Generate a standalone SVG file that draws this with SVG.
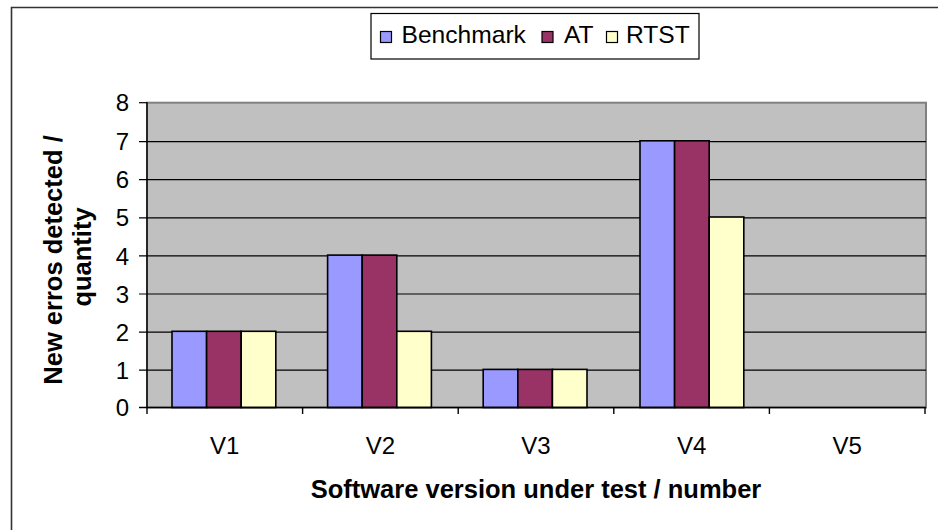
<svg xmlns="http://www.w3.org/2000/svg" width="938" height="530" viewBox="0 0 938 530">
<style>
text{font-family:"Liberation Sans",Arial,sans-serif;fill:#000}
.t{font-size:24px}
.lg{font-size:24.6px}
.b{font-size:25.5px;font-weight:bold}
.grid{stroke:#000;stroke-width:1.2}
.bar{stroke:#000;stroke-width:1.6}
.bm{fill:#9999FF}
.at{fill:#993366}
.rt{fill:#FFFFCC}
.sw{stroke:#000;stroke-width:1.2}
</style>
<rect x="0" y="0" width="938" height="530" fill="#fff"/>
<path d="M11.5,530 V7.5 H938" fill="none" stroke="#333" stroke-width="1.6"/>
<g id="plot-area">
<rect x="147" y="102.7" width="779" height="304.8" fill="#C0C0C0" stroke="#808080" stroke-width="2"/>
<g id="gridlines">
<line class="grid" x1="139" y1="141.6" x2="926" y2="141.6"/>
<line class="grid" x1="139" y1="179.7" x2="926" y2="179.7"/>
<line class="grid" x1="139" y1="217.8" x2="926" y2="217.8"/>
<line class="grid" x1="139" y1="255.9" x2="926" y2="255.9"/>
<line class="grid" x1="139" y1="294" x2="926" y2="294"/>
<line class="grid" x1="139" y1="332.1" x2="926" y2="332.1"/>
<line class="grid" x1="139" y1="370.2" x2="926" y2="370.2"/>
<line class="grid" x1="139" y1="102.7" x2="147" y2="102.7"/>
</g>
</g>
<g id="bars">
<g id="V1-bars">
<rect class="bar bm" x="172" y="331.3" width="34.6" height="76.2"/>
<rect class="bar at" x="206.6" y="331.3" width="34.6" height="76.2"/>
<rect class="bar rt" x="241.2" y="331.3" width="34.6" height="76.2"/>
</g>
<g id="V2-bars">
<rect class="bar bm" x="327.6" y="255.1" width="34.6" height="152.4"/>
<rect class="bar at" x="362.2" y="255.1" width="34.6" height="152.4"/>
<rect class="bar rt" x="396.8" y="331.3" width="34.6" height="76.2"/>
</g>
<g id="V3-bars">
<rect class="bar bm" x="483.2" y="369.4" width="34.6" height="38.1"/>
<rect class="bar at" x="517.8" y="369.4" width="34.6" height="38.1"/>
<rect class="bar rt" x="552.4" y="369.4" width="34.6" height="38.1"/>
</g>
<g id="V4-bars">
<rect class="bar bm" x="640" y="140.8" width="34.6" height="266.7"/>
<rect class="bar at" x="674.6" y="140.8" width="34.6" height="266.7"/>
<rect class="bar rt" x="709.2" y="217" width="34.6" height="190.5"/>
</g>
</g>
<g id="axes" stroke="#000" stroke-width="1.4">
<line x1="147" y1="102" x2="147" y2="414"/>
<line x1="139" y1="407.5" x2="926" y2="407.5"/>
<line x1="302.6" y1="407.5" x2="302.6" y2="414"/>
<line x1="458.2" y1="407.5" x2="458.2" y2="414"/>
<line x1="613.8" y1="407.5" x2="613.8" y2="414"/>
<line x1="769.4" y1="407.5" x2="769.4" y2="414"/>
<line x1="925" y1="407.5" x2="925" y2="414"/>
</g>
<g id="y-labels" text-anchor="end">
<text class="t" x="129" y="111.3">8</text>
<text class="t" x="129" y="150.2">7</text>
<text class="t" x="129" y="188.3">6</text>
<text class="t" x="129" y="226.4">5</text>
<text class="t" x="129" y="264.5">4</text>
<text class="t" x="129" y="302.6">3</text>
<text class="t" x="129" y="340.7">2</text>
<text class="t" x="129" y="378.8">1</text>
<text class="t" x="129" y="416.1">0</text>
</g>
<g id="x-labels" text-anchor="middle">
<text class="t" x="224.8" y="453.5">V1</text>
<text class="t" x="380.4" y="453.5">V2</text>
<text class="t" x="536" y="453.5">V3</text>
<text class="t" x="691.6" y="453.5">V4</text>
<text class="t" x="847.2" y="453.5">V5</text>
</g>
<text id="x-title" class="b" x="536" y="497.5" text-anchor="middle">Software version under test / number</text>
<g id="y-title" text-anchor="middle">
<text class="b" transform="translate(62,260) rotate(-90)">New erros detected /</text>
<text class="b" transform="translate(91,257) rotate(-90)">quantity</text>
</g>
<g id="legend">
<rect x="371" y="13.5" width="328" height="45.5" fill="#fff" stroke="#000" stroke-width="1.2"/>
<rect class="sw bm" x="380.5" y="31.5" width="11" height="11"/>
<text class="lg" x="401.5" y="43">Benchmark</text>
<rect class="sw at" x="542" y="31.5" width="11" height="11"/>
<text class="lg" x="564" y="43">AT</text>
<rect class="sw rt" x="606.5" y="31.5" width="11" height="11"/>
<text class="lg" x="626" y="43">RTST</text>
</g>
</svg>
